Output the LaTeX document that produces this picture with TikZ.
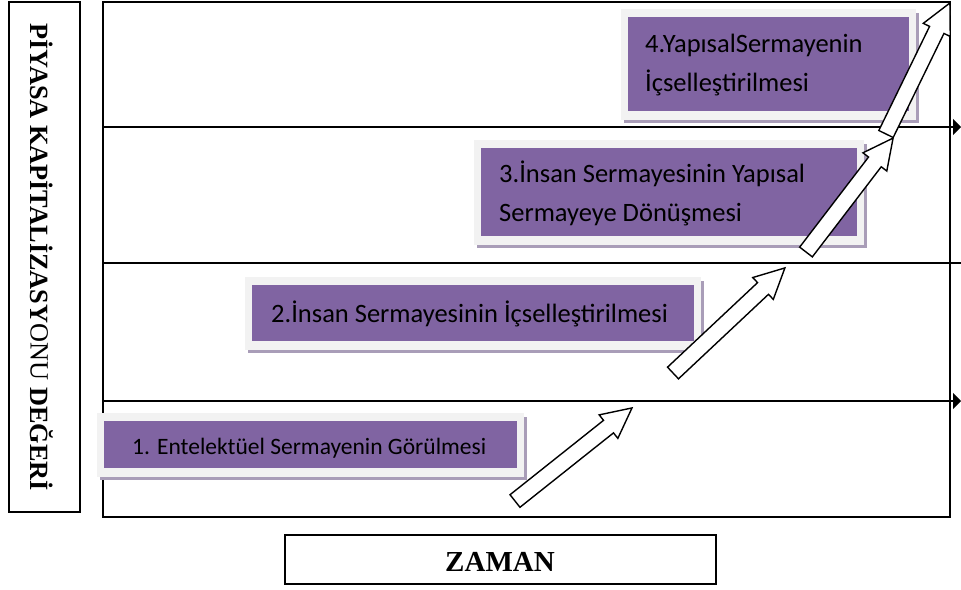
\documentclass[tikz,border=0pt]{standalone}
\usepackage{fontspec}
\setmainfont{Liberation Serif}
\newfontfamily\stagefont{Carlito}
\usetikzlibrary{arrows.meta}

\definecolor{boxpurple}{HTML}{8064A2}
\definecolor{boxframe}{HTML}{F2F2F2}
\definecolor{boxshade}{HTML}{A99DB8}

% purple stage panel: light frame with a soft shadow to the lower right
\newcommand\stagepanel[4]{%
  \fill[boxshade] (#1-4,#2-4) rectangle (#3+10,#4+12);
  \fill[boxframe] (#1-7,#2-8) rectangle (#3+7,#4+9);
  \fill[boxpurple] (#1,#2) rectangle (#3,#4);
}

\tikzset{
  outline/.style={draw=black,line width=1.6pt},
  levelline/.style={draw=black,line width=1.9pt},
  leveltip/.style={-{Triangle[length=8pt,width=16pt]}},
  stagetext/.style={inner sep=0pt,align=left,text=black,
    font=\stagefont\fontsize{26.5}{39}\selectfont},
  axistext/.style={inner sep=0pt,text=black},
  pics/hollowarrow/.style={code={
    \draw[fill=white,draw=black,line width=1.4pt,line join=miter]
      (0,-8) -- (#1-30,-8) -- (#1-30,-15) -- (#1,0) -- (#1-30,15)
      -- (#1-30,8) -- (0,8) -- cycle;
  }}
}

\begin{document}
\begin{tikzpicture}[x=1pt,y=-1pt]
\useasboundingbox (0,0) rectangle (961,589);

% vertical axis caption
\draw[outline] (9,2) rectangle (80,512);
\node[axistext,rotate=-90,font=\fontsize{26.3}{30}\selectfont] (yaxis) at (42,257)
  {\bfseries PİYASA KAPİTALİZASY\mdseries ONU \bfseries DEĞERİ};

% horizontal axis caption
\draw[outline] (285,535) rectangle (716,584);
\node[axistext,font=\bfseries\fontsize{29}{34}\selectfont] (xaxis) at (500,562) {ZAMAN};

% main frame and level lines
\draw[outline] (103,2) rectangle (950,517);
\draw[levelline,leveltip] (103,127) -- (961,127);
\draw[levelline] (103,263) -- (961,263);
\draw[levelline,leveltip] (103,401) -- (961,401);

% stage panels
\stagepanel{104}{421}{517}{468}
\stagepanel{252}{285}{694}{341}
\stagepanel{481}{148}{857}{236}
\stagepanel{628}{17}{909}{111}

\node[stagetext,anchor=west,font=\stagefont\fontsize{23.5}{30}\selectfont] (s1) at (132,448) {1. Entelektüel Sermayenin Görülmesi};
\node[stagetext,anchor=west] (s2) at (271,314) {2.İnsan Sermayesinin İçselleştirilmesi};
\node[stagetext,anchor=west] (s3) at (499,193) {3.İnsan Sermayesinin Yapısal\\Sermayeye Dönüşmesi};
\node[stagetext,anchor=west] (s4) at (645,65) {4.YapısalSermayenin\\İçselleştirilmesi};

% growth arrows between the levels
\coordinate (a1) at (515,501);
\coordinate (a2) at (673,373);
\coordinate (a3) at (806,252);
\coordinate (a4) at (886,134);
\pic[rotate=38.5] at (a1) {hollowarrow=149.5};
\pic[rotate=43.2] at (a2) {hollowarrow=153.5};
\pic[rotate=52.6] at (a3) {hollowarrow=143.4};
\pic[rotate=64.0] at (a4) {hollowarrow=145.8};
\end{tikzpicture}
\end{document}
